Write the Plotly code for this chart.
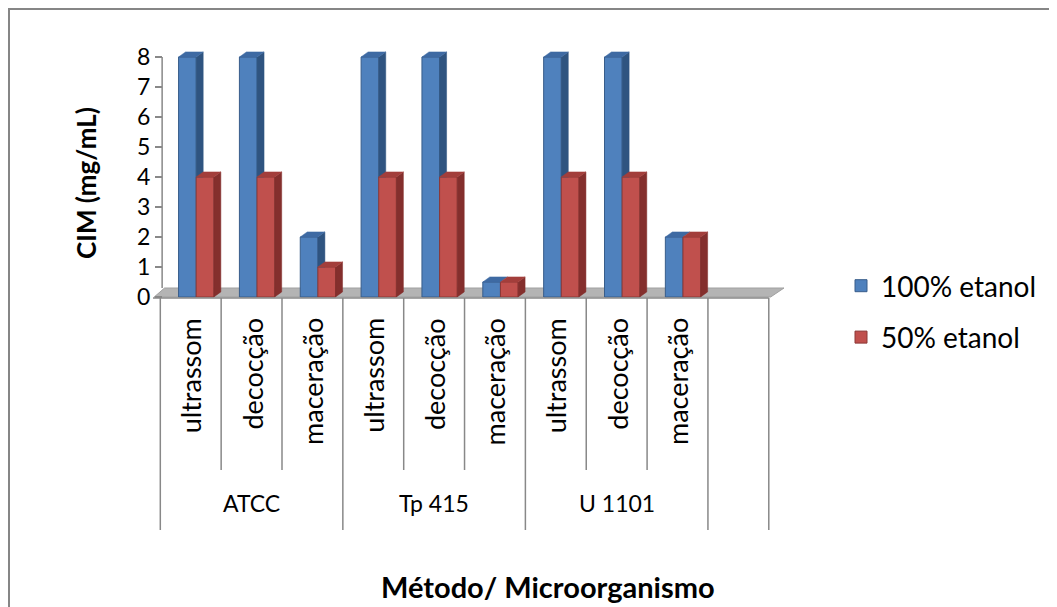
import plotly.graph_objects as go

# ---- data ----
methods = ["ultrassom", "decocção", "maceração",
           "ultrassom", "decocção", "maceração",
           "ultrassom", "decocção", "maceração"]
organisms = ["ATCC", "Tp 415", "U 1101"]
etanol_100 = [8, 8, 2, 8, 8, 0.5, 8, 8, 2]
etanol_50 = [4, 4, 1, 4, 4, 0.5, 4, 4, 2]
series_names = ["100% etanol", "50% etanol"]
y_ticks = [0, 1, 2, 3, 4, 5, 6, 7, 8]

# ---- layout geometry (pixels; page has an 8px body margin) ----
PAGE_OFF = 8
W, H = 1049, 599
PW, PH = 631, 258
L, T = 153 - PAGE_OFF, 45 - PAGE_OFF
R = W - L - PW
B = H - T - PH
XR = [-0.62, 9.75]
YR = [-0.2, 8.4]


def px_x(px):
    return (px - PAGE_OFF - L) / PW


def px_y(py):
    return (T + PH - (py - PAGE_OFF)) / PH


BAR_W = 0.29
OFF_BLUE = -0.20
OFF_RED = 0.09
DX = 0.115
DY = 0.17

BLUE = "#4F81BD"
BLUE_SIDE = "#2F5480"
BLUE_TOP = "#3E6AA3"
RED = "#C0504D"
RED_SIDE = "#842F2D"
RED_TOP = "#A33E3B"
FONT = "Lato"

idx = list(range(len(methods)))
fig = go.Figure()

fig.add_trace(go.Bar(x=idx, y=etanol_100, width=BAR_W, offset=OFF_BLUE,
                     name=series_names[0], legendgroup="a",
                     marker=dict(color=BLUE, line=dict(color="#385D8A", width=1))))
fig.add_trace(go.Bar(x=idx, y=etanol_50, width=BAR_W, offset=OFF_RED,
                     name=series_names[1], legendgroup="b",
                     marker=dict(color=RED, line=dict(color="#8C3836", width=1))))


def faces(values, off, clip=None):
    sx, sy, tx, ty = [], [], [], []
    for i, v in zip(idx, values):
        x0 = i + off
        x1 = x0 + BAR_W
        lo = 0.0
        if clip is not None:
            lo = clip[i]
        if v > lo:
            sx += [x1, x1 + DX, x1 + DX, x1, x1, None]
            sy += [lo, lo if lo > 0 else DY, v + DY, v, lo, None]
        tx += [x0, x1, x1 + DX, x0 + DX, x0, None]
        ty += [v, v, v + DY, v + DY, v, None]
    return sx, sy, tx, ty


def add_faces(values, off, side_c, top_c, clip=None):
    sx, sy, tx, ty = faces(values, off, clip)
    fig.add_trace(go.Scatter(x=sx, y=sy, fill="toself", fillcolor=side_c, mode="lines",
                             line=dict(color=side_c, width=0.5), showlegend=False,
                             hoverinfo="skip"))
    fig.add_trace(go.Scatter(x=tx, y=ty, fill="toself", fillcolor=top_c, mode="lines",
                             line=dict(color=top_c, width=0.5), showlegend=False,
                             hoverinfo="skip"))


add_faces(etanol_100, OFF_BLUE, BLUE_SIDE, BLUE_TOP, clip=etanol_50)
add_faces(etanol_50, OFF_RED, RED_SIDE, RED_TOP)

shapes = []
GRAY = "#888888"
# floor
shapes.append(dict(type="path", xref="x", yref="y", layer="below",
                   path="M -0.6 0 L -0.43 0.3 L 9.75 0.3 L 9.53 0 Z",
                   fillcolor="#B4B4B4", line=dict(color="#A0A0A0", width=1)))
# y axis line
shapes.append(dict(type="line", xref="x", yref="y", x0=-0.47, x1=-0.47, y0=0.3, y1=8,
                   line=dict(color=GRAY, width=1.5), layer="below"))
# category axis line
shapes.append(dict(type="line", xref="x", yref="paper", x0=-0.62, x1=9.5,
                   y0=px_y(298), y1=px_y(298), line=dict(color=GRAY, width=1.5)))
# separators
for k in range(11):
    xb = k - 0.5
    outer = k in (0, 3, 6, 9, 10)
    yend = 530 if outer else 470
    shapes.append(dict(type="line", xref="x", yref="paper", x0=xb, x1=xb,
                       y0=px_y(298), y1=px_y(yend), line=dict(color=GRAY, width=1.5)))
# outer frame
shapes.append(dict(type="rect", xref="paper", yref="paper",
                   x0=px_x(9), x1=px_x(1100), y0=px_y(9), y1=px_y(700),
                   line=dict(color="#868686", width=2), fillcolor="rgba(0,0,0,0)"))

annotations = []
for i, m in enumerate(methods):
    annotations.append(dict(x=i, y=px_y(316), xref="x", yref="paper", text=m,
                            textangle=-90, showarrow=False, yanchor="top",
                            xanchor="center",
                            font=dict(family=FONT, size=27, color="#000000")))
for g, name in enumerate(organisms):
    annotations.append(dict(x=3 * g + 1, y=px_y(503), xref="x", yref="paper",
                            text=name, showarrow=False, yanchor="middle",
                            xanchor="center",
                            font=dict(family=FONT, size=23, color="#000000")))
annotations.append(dict(x=px_x(86), y=px_y(183), xref="paper", yref="paper",
                        text="<b>CIM (mg/mL)</b>", textangle=-90, showarrow=False,
                        xanchor="center", yanchor="middle",
                        font=dict(family=FONT, size=26, color="#000000")))
annotations.append(dict(x=px_x(548), y=px_y(586), xref="paper", yref="paper",
                        text="<b>Método/ Microorganismo</b>", showarrow=False,
                        xanchor="center", yanchor="middle",
                        font=dict(family=FONT, size=29, color="#000000")))

fig.update_layout(
    width=W, height=H,
    margin=dict(l=L, r=R, t=T, b=B),
    paper_bgcolor="white", plot_bgcolor="white",
    barmode="overlay",
    showlegend=True,
    legend=dict(x=px_x(841), y=px_y(261), xanchor="left", yanchor="top",
                font=dict(family=FONT, size=28, color="#000000"),
                tracegroupgap=12, bgcolor="rgba(0,0,0,0)"),
    xaxis=dict(range=XR, showgrid=False, zeroline=False, showticklabels=False,
               showline=False, ticks=""),
    yaxis=dict(range=YR, showgrid=False, zeroline=False, tickvals=y_ticks,
               ticks="outside", ticklen=7, tickcolor=GRAY, tickwidth=1.5,
               showline=False, anchor="free", position=px_x(162),
               tickfont=dict(family=FONT, size=23, color="#000000")),
    shapes=shapes, annotations=annotations,
)

fig.write_html("out.html")
